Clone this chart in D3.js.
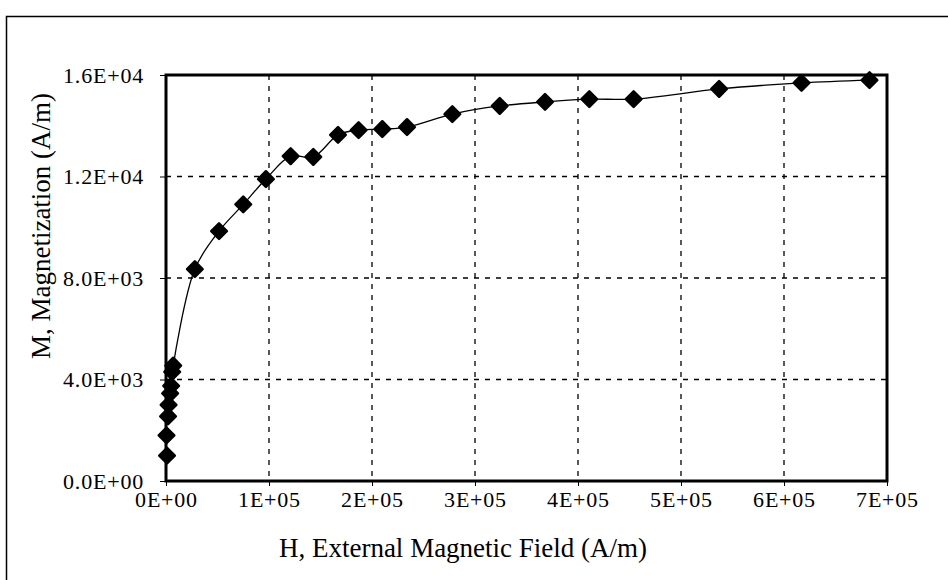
<!DOCTYPE html>
<html>
<head>
<meta charset="utf-8">
<script src="https://cdn.jsdelivr.net/npm/d3@7"></script>
<style>
  body { margin: 0; background: #fff; }
  svg { display: block; font-family: "Liberation Serif", "Times New Roman", serif; }
  .grid line { stroke: #000; stroke-width: 1.3; stroke-dasharray: 5, 6; }
  .axis path, .axis line { stroke: #000; }
  .axis text { font-size: 22px; letter-spacing: 0.8px; fill: #000; }
  .axisLabel { font-size: 27px; fill: #000; }
</style>
</head>
<body>
<div id="chart"></div>
<script>
// external field H (A/m)
const hValues = [500, 1000, 2000, 2500, 4000, 5000, 6000, 7000,
  28000, 51500, 75000, 97000, 121000, 143000, 167000, 187000, 210000, 234000,
  278000, 324000, 368000, 411000, 454000, 537000, 617000, 683000];
// magnetization M (A/m)
const mValues = [1800, 1000, 2550, 3000, 3450, 3750, 4300, 4550,
  8350, 9850, 10900, 11900, 12800, 12770, 13640, 13830, 13870, 13950,
  14460, 14780, 14940, 15050, 15050, 15450, 15690, 15800];

const xTicks = [0, 1e5, 2e5, 3e5, 4e5, 5e5, 6e5, 7e5];
const yTicks = [0, 4000, 8000, 12000, 16000];

function magChart() {
  let margin = { top: 75, left: 166, right: 61, bottom: 99 },
    width = 948 - margin.left - margin.right,
    height = 580 - margin.top - margin.bottom;

  function chart(selector) {
    let data = hValues.map((h, i) => ({ h: h, m: mValues[i] }))
      .sort((a, b) => a.h - b.h);

    let root = d3.select(selector)
      .append("svg")
      .attr("width", 948)
      .attr("height", 580);

    // outer frame (only top and left edges are visible in the scan)
    root.append("path")
      .attr("d", "M6.5,580 V16.5 H948")
      .attr("fill", "none")
      .attr("stroke", "#000")
      .attr("stroke-width", 1.5);

    let svg = root.append("g")
      .attr("transform", "translate(" + margin.left + "," + margin.top + ")");

    let x = d3.scaleLinear().domain([0, 7e5]).range([0, width]);
    let y = d3.scaleLinear().domain([0, 16000]).range([height, 0]);

    // grid
    svg.append("g").attr("class", "grid")
      .selectAll("line").data(xTicks.slice(1, -1)).enter()
      .append("line")
      .attr("x1", d => x(d)).attr("x2", d => x(d))
      .attr("y1", 0).attr("y2", height);

    svg.append("g").attr("class", "grid")
      .selectAll("line").data(yTicks.slice(1, -1)).enter()
      .append("line")
      .attr("x1", 0).attr("x2", width)
      .attr("y1", d => y(d)).attr("y2", d => y(d));

    // plot border
    svg.append("rect")
      .attr("width", width).attr("height", height)
      .attr("fill", "none").attr("stroke", "#000").attr("stroke-width", 3);

    let xAxis = svg.append("g")
      .attr("class", "axis")
      .attr("transform", "translate(0," + height + ")")
      .call(d3.axisBottom(x).tickValues(xTicks).tickSize(5).tickPadding(5)
        .tickFormat(d => d === 0 ? "0E+00" : (d / 1e5) + "E+05"));
    xAxis.attr("font-family", null);
    xAxis.select(".domain").remove();

    let yAxis = svg.append("g")
      .attr("class", "axis")
      .call(d3.axisLeft(y).tickValues(yTicks).tickSize(6).tickPadding(16)
        .tickFormat(d => {
          if (d === 0) return "0.0E+00";
          let e = Math.floor(Math.log10(d));
          return (d / Math.pow(10, e)).toFixed(1) + "E+" + String(e).padStart(2, "0");
        }));
    yAxis.attr("font-family", null);
    yAxis.select(".domain").remove();

    svg.append("text")
      .attr("class", "axisLabel")
      .attr("text-anchor", "middle")
      .attr("x", 297)
      .attr("y", height + 76)
      .text("H, External Magnetic Field (A/m)");

    svg.append("text")
      .attr("class", "axisLabel")
      .attr("text-anchor", "middle")
      .attr("transform", "translate(-116," + 151 + ") rotate(-90)")
      .text("M, Magnetization (A/m)");

    // smoothed line
    let line = d3.line()
      .x(d => x(d.h))
      .y(d => y(d.m))
      .curve(d3.curveCatmullRom.alpha(0.5));

    svg.append("path")
      .datum(data.filter(d => d.h >= 7000))
      .attr("d", line)
      .attr("fill", "none")
      .attr("stroke", "#000")
      .attr("stroke-width", 1.3);

    svg.append("g")
      .selectAll(".point")
      .data(data)
      .enter()
      .append("path")
      .attr("class", "point")
      .attr("transform", d => "translate(" + x(d.h) + "," + y(d.m) + ")")
      .attr("d", d3.symbol().type(d3.symbolDiamond2).size(155))
      .attr("fill", "#000")
      .attr("stroke", "#000")
      .attr("stroke-width", 2.5)
      .attr("stroke-linejoin", "round");

    return chart;
  }

  return chart;
}

magChart()("#chart");
</script>
</body>
</html>
